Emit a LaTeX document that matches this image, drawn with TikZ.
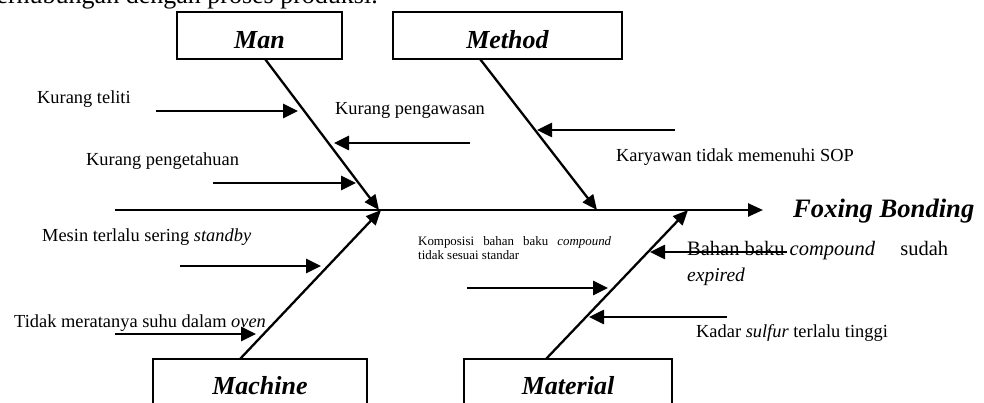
\documentclass[tikz,border=0pt]{standalone}
\usepackage{fontspec}
\setmainfont{Liberation Serif}
\usetikzlibrary{arrows.meta}
\tikzset{
  catbox/.style={draw, line width=2pt, rectangle, inner sep=0pt},
  cattext/.style={font=\fontsize{26}{30}\selectfont\bfseries\itshape, inner sep=0pt},
  lbl/.style={font=\fontsize{18.4}{22}\selectfont, inner sep=0pt, anchor=base west},
  biglbl/.style={font=\fontsize{20.5}{24}\selectfont, inner sep=0pt, anchor=base west},
  smalllbl/.style={font=\fontsize{12.9}{15}\selectfont, inner sep=0pt, anchor=base west},
  bone/.style={line width=2.3pt, -{Triangle[length=15pt,width=13pt]}},
  sub/.style={line width=2.6pt, -{Triangle[length=15pt,width=14pt]}},
}
\begin{document}
\begin{tikzpicture}[x=1pt,y=-1pt]
\useasboundingbox (0,0) rectangle (984,403);
\clip (0,0) rectangle (984,403);
% cropped heading line
\node[font=\fontsize{26}{30}\selectfont, inner sep=0pt, anchor=base east] (head) at (378,3.5) {berhubungan dengan proses produksi.};
% category boxes
\node[catbox, minimum width=165pt, minimum height=47pt] (manbox) at (259.5,35.5) {};
\node[catbox, minimum width=229pt, minimum height=47pt] (methodbox) at (507.5,35.5) {};
\node[catbox, minimum width=214pt, minimum height=62pt] (machinebox) at (260,390) {};
\node[catbox, minimum width=208pt, minimum height=62pt] (materialbox) at (568,390) {};
\node[cattext, anchor=base] (manlbl) at (259.5,49) {Man};
\node[cattext, anchor=base] (methodlbl) at (507.5,49) {Method};
\node[cattext, anchor=base] (machinelbl) at (260,394) {Machine};
\node[cattext, anchor=base] (materiallbl) at (568,394) {Material};
% spine
\coordinate (spinestart) at (115,210);
\coordinate (spineend) at (763,210);
\draw[bone, line width=2.5pt] (spinestart) -- (spineend);
\node[cattext, font=\fontsize{26.6}{30}\selectfont\bfseries\itshape, anchor=base west] (effect) at (793,218) {Foxing Bonding};
% bones
\coordinate (manroot) at (265,59);
\coordinate (mantip) at (379,210);
\coordinate (methodroot) at (480,59);
\coordinate (methodtip) at (597,210);
\coordinate (machineroot) at (240,359);
\coordinate (machinetip) at (381,210);
\coordinate (materialroot) at (546,359);
\coordinate (materialtip) at (688,210);
\draw[bone] (manroot) -- (mantip);
\draw[bone] (methodroot) -- (methodtip);
\draw[bone] (machineroot) -- (machinetip);
\draw[bone] (materialroot) -- (materialtip);
% sub-causes: Man
\coordinate (t1) at (156,111); \coordinate (h1) at (298,111);
\draw[sub] (t1) -- (h1);
\node[lbl] (l1) at (37,104) {Kurang teliti};
\coordinate (t2) at (213,183); \coordinate (h2) at (356,183);
\draw[sub] (t2) -- (h2);
\node[lbl] (l2) at (86,166) {Kurang pengetahuan};
\coordinate (t3) at (470,143); \coordinate (h3) at (334,143);
\draw[sub] (t3) -- (h3);
\node[lbl] (l3) at (335,115) {Kurang pengawasan};
% Method
\coordinate (t4) at (675,130); \coordinate (h4) at (537,130);
\draw[sub] (t4) -- (h4);
\node[lbl] (l4) at (616,162) {Karyawan tidak memenuhi SOP};
% Machine
\coordinate (t5) at (180,266); \coordinate (h5) at (321,266);
\draw[sub] (t5) -- (h5);
\node[lbl] (l5) at (42,241) {Mesin terlalu sering \textit{standby}};
\coordinate (t6) at (115,334); \coordinate (h6) at (256,334);
\draw[sub] (t6) -- (h6);
\node[lbl] (l6) at (14,327) {Tidak meratanya suhu dalam \textit{oven}};
% Material
\coordinate (t7) at (467,288); \coordinate (h7) at (608,288);
\draw[sub] (t7) -- (h7);
\node[smalllbl] (l7a) at (418,245) {\makebox[193pt][s]{Komposisi bahan baku \textit{compound}}};
\node[smalllbl] (l7b) at (418,259) {tidak sesuai standar};
\coordinate (t8) at (787,252); \coordinate (h8) at (650,252);
\draw[sub] (t8) -- (h8);
\node[biglbl] (l8a) at (687,255) {\hbox to 261pt{Bahan baku \textit{compound}\hfill sudah}};
\node[biglbl, font=\fontsize{19.5}{23}\selectfont] (l8b) at (687,281) {\textit{expired}};
\coordinate (t9) at (727,317); \coordinate (h9) at (589,317);
\draw[sub] (t9) -- (h9);
\node[lbl] (l9) at (696,337) {Kadar \textit{sulfur} terlalu tinggi};
\end{tikzpicture}
\end{document}
